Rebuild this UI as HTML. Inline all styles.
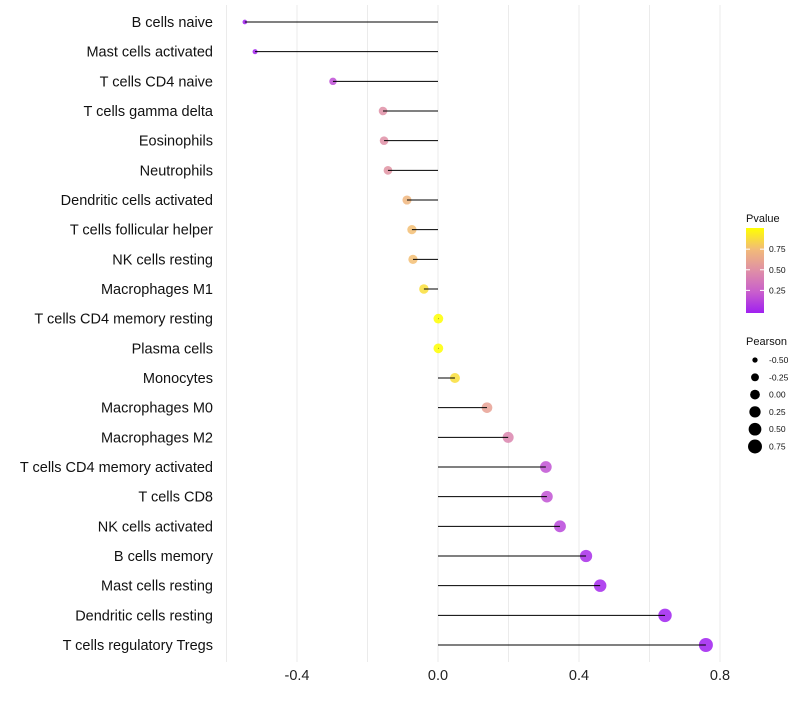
<!DOCTYPE html>
<html><head><meta charset="utf-8"><style>
body{margin:0;background:#fff;font-family:"Liberation Sans",sans-serif}
</style></head><body>
<svg id="chart" width="800" height="700" xmlns="http://www.w3.org/2000/svg">
<defs><linearGradient id="pg" x1="0" y1="1" x2="0" y2="0">
<stop offset="0" stop-color="#a020f0"/><stop offset="0.25" stop-color="#c95fcc"/><stop offset="0.5" stop-color="#df8fa6"/><stop offset="0.75" stop-color="#f2bb78"/><stop offset="1" stop-color="#ffff00"/></linearGradient></defs>
<g id="grid"></g><g id="marks"></g><g id="ylabels"></g><g id="xlabels"></g><g id="legend"></g>
</svg>
<script>
const categories=["B cells naive","Mast cells activated","T cells CD4 naive","T cells gamma delta","Eosinophils","Neutrophils","Dendritic cells activated","T cells follicular helper","NK cells resting","Macrophages M1","T cells CD4 memory resting","Plasma cells","Monocytes","Macrophages M0","Macrophages M2","T cells CD4 memory activated","T cells CD8","NK cells activated","B cells memory","Mast cells resting","Dendritic cells resting","T cells regulatory  Tregs"];
const pearson=[-0.548,-0.519,-0.298,-0.156,-0.153,-0.142,-0.088,-0.074,-0.071,-0.040,0.001,0.001,0.048,0.139,0.199,0.306,0.309,0.346,0.420,0.460,0.644,0.760];
const pvalue=[0.0,0.01,0.18,0.5,0.5,0.52,0.72,0.76,0.76,0.88,1.0,1.0,0.88,0.6,0.45,0.2,0.2,0.15,0.05,0.03,0.002,0.0001];
const xTicks=[-0.4,0.0,0.4,0.8];
const xGrid=[-0.6,-0.4,-0.2,0,0.2,0.4,0.6,0.8];
const sizeLegend=[-0.5,-0.25,0,0.25,0.5,0.75];
const colorTicks=[0.25,0.5,0.75];
const NS="http://www.w3.org/2000/svg";
const X=v=>438+v*352.5;
const Y=i=>22+i*29.667;
const R=v=>Math.sqrt(Math.max(1,23.7+33.4*v));
const stops=[[0,[160,32,240]],[0.25,[201,95,204]],[0.5,[223,143,166]],[0.75,[242,187,120]],[1,[255,255,0]]];
function col(p){for(let k=1;k<stops.length;k++){if(p<=stops[k][0]){const a=stops[k-1],b=stops[k],t=(p-a[0])/(b[0]-a[0]);return "rgb("+a[1].map((c,j)=>Math.round(c+(b[1][j]-c)*t)).join(",")+")";}}return "rgb(255,255,0)";}
function mk(tag,attrs,parent){const e=document.createElementNS(NS,tag);for(const k in attrs)e.setAttribute(k,attrs[k]);parent.appendChild(e);return e;}
const grid=document.getElementById('grid'),marks=document.getElementById('marks'),yl=document.getElementById('ylabels'),xl=document.getElementById('xlabels'),lg=document.getElementById('legend');
xGrid.forEach(v=>{const l=mk('line',{x1:X(v),x2:X(v),y1:5,y2:662,stroke:'#ebebeb','stroke-width':1},grid);

});
categories.forEach((c,i)=>{
const pt=mk('circle',{cx:X(pearson[i]),cy:Y(i),r:R(pearson[i]),fill:col(pvalue[i]),'fill-opacity':0.85},marks);


const ln=mk('line',{x1:X(0),x2:X(pearson[i]),y1:Y(i),y2:Y(i),stroke:'#000','stroke-width':1},marks);


const t=mk('text',{x:213,y:Y(i)+5,'text-anchor':'end','font-size':14.5,fill:'#111'},yl);t.textContent=c;

});
xTicks.forEach(v=>{const t=mk('text',{x:X(v),y:680,'text-anchor':'middle','font-size':14.5,fill:'#222'},xl);t.textContent=v.toFixed(1);

});
let t=mk('text',{x:746,y:222,'font-size':11,fill:'#111'},lg);t.textContent='Pvalue';


const bar=mk('rect',{x:746,y:228,width:18,height:85,fill:'url(#pg)'},lg);


colorTicks.forEach(p=>{const y=313-p*85*0.97-2;
mk('line',{x1:746,x2:750,y1:y,y2:y,stroke:'#fff'},lg);mk('line',{x1:760,x2:764,y1:y,y2:y,stroke:'#fff'},lg);
const tt=mk('text',{x:769,y:y+3,'font-size':8.5,fill:'#111'},lg);tt.textContent=p.toFixed(2);

});
t=mk('text',{x:746,y:345,'font-size':11,fill:'#111'},lg);t.textContent='Pearson';


sizeLegend.forEach((v,k)=>{const y=360+k*17.3;
const c=mk('circle',{cx:755,cy:y,r:R(v),fill:'#000'},lg);


const tt=mk('text',{x:769,y:y+3,'font-size':8.5,fill:'#111'},lg);tt.textContent=v.toFixed(2);

});
</script>
</body></html>
